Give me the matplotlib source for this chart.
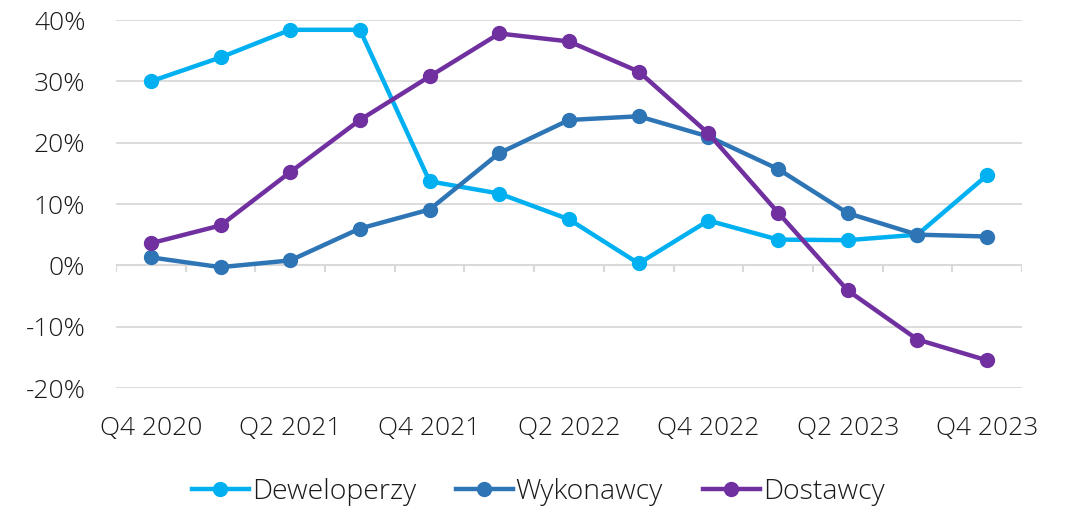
import numpy as np
import matplotlib.pyplot as plt
from matplotlib.ticker import FuncFormatter

quarters = ['Q4 2020', 'Q1 2021', 'Q2 2021', 'Q3 2021', 'Q4 2021', 'Q1 2022', 'Q2 2022',
            'Q3 2022', 'Q4 2022', 'Q1 2023', 'Q2 2023', 'Q3 2023', 'Q4 2023']
deweloperzy = [30.0, 33.9, 38.4, 38.4, 13.7, 11.7, 7.5, 0.3, 7.3, 4.2, 4.1, 5.0, 14.7]
wykonawcy = [1.3, -0.3, 0.8, 6.0, 9.1, 18.3, 23.7, 24.3, 21.0, 15.7, 8.5, 5.0, 4.7]
dostawcy = [3.6, 6.5, 15.2, 23.7, 30.8, 37.8, 36.5, 31.6, 21.5, 8.6, -4.1, -12.1, -15.5]

plt.rcParams['font.family'] = ['Open Sans', 'DejaVu Sans']
plt.rcParams['font.weight'] = 'light'

fig = plt.figure(figsize=(10.65, 5.11), dpi=100)
ax = fig.add_axes([116 / 1065, 1 - 388 / 511, 906 / 1065, 368 / 511])

x = np.arange(len(quarters))
series = [('Deweloperzy', deweloperzy, '#00B0F0'),
          ('Wykonawcy', wykonawcy, '#2E75B6'),
          ('Dostawcy', dostawcy, '#7030A0')]
for name, vals, col in series:
    ax.plot(x, vals, color=col, lw=3.2, marker='o', ms=10, label=name, zorder=3)

ax.set_xlim(-0.5, len(quarters) - 0.5)
ax.set_ylim(-20, 40)
ax.set_yticks(np.arange(-20, 41, 10))
ax.yaxis.set_major_formatter(FuncFormatter(lambda v, p: f'{v:.0f}%'))
ax.grid(axis='y', color='#D9D9D9', lw=1.3, zorder=0)
ax.axhline(0, color='#D9D9D9', lw=1.5, zorder=1)
ax.vlines(np.arange(-0.5, len(quarters)), -1.15, 0, color='#D9D9D9', lw=1.5, zorder=1)

ax.set_xticks(x[::2])
ax.set_xticklabels(quarters[::2])
ax.tick_params(axis='x', length=0, pad=20, labelsize=19, colors='#1A1A1A')
ax.tick_params(axis='y', length=0, pad=22, labelsize=19, colors='#1A1A1A')
for s in ax.spines.values():
    s.set_visible(False)

ax.legend(loc='center', bbox_to_anchor=(0.466, -0.283), ncol=3, frameon=False,
          fontsize=20.5, handlelength=2.0, handletextpad=0.1, columnspacing=1.4,
          labelcolor='#1A1A1A')

fig.savefig('out.png', dpi=100)
